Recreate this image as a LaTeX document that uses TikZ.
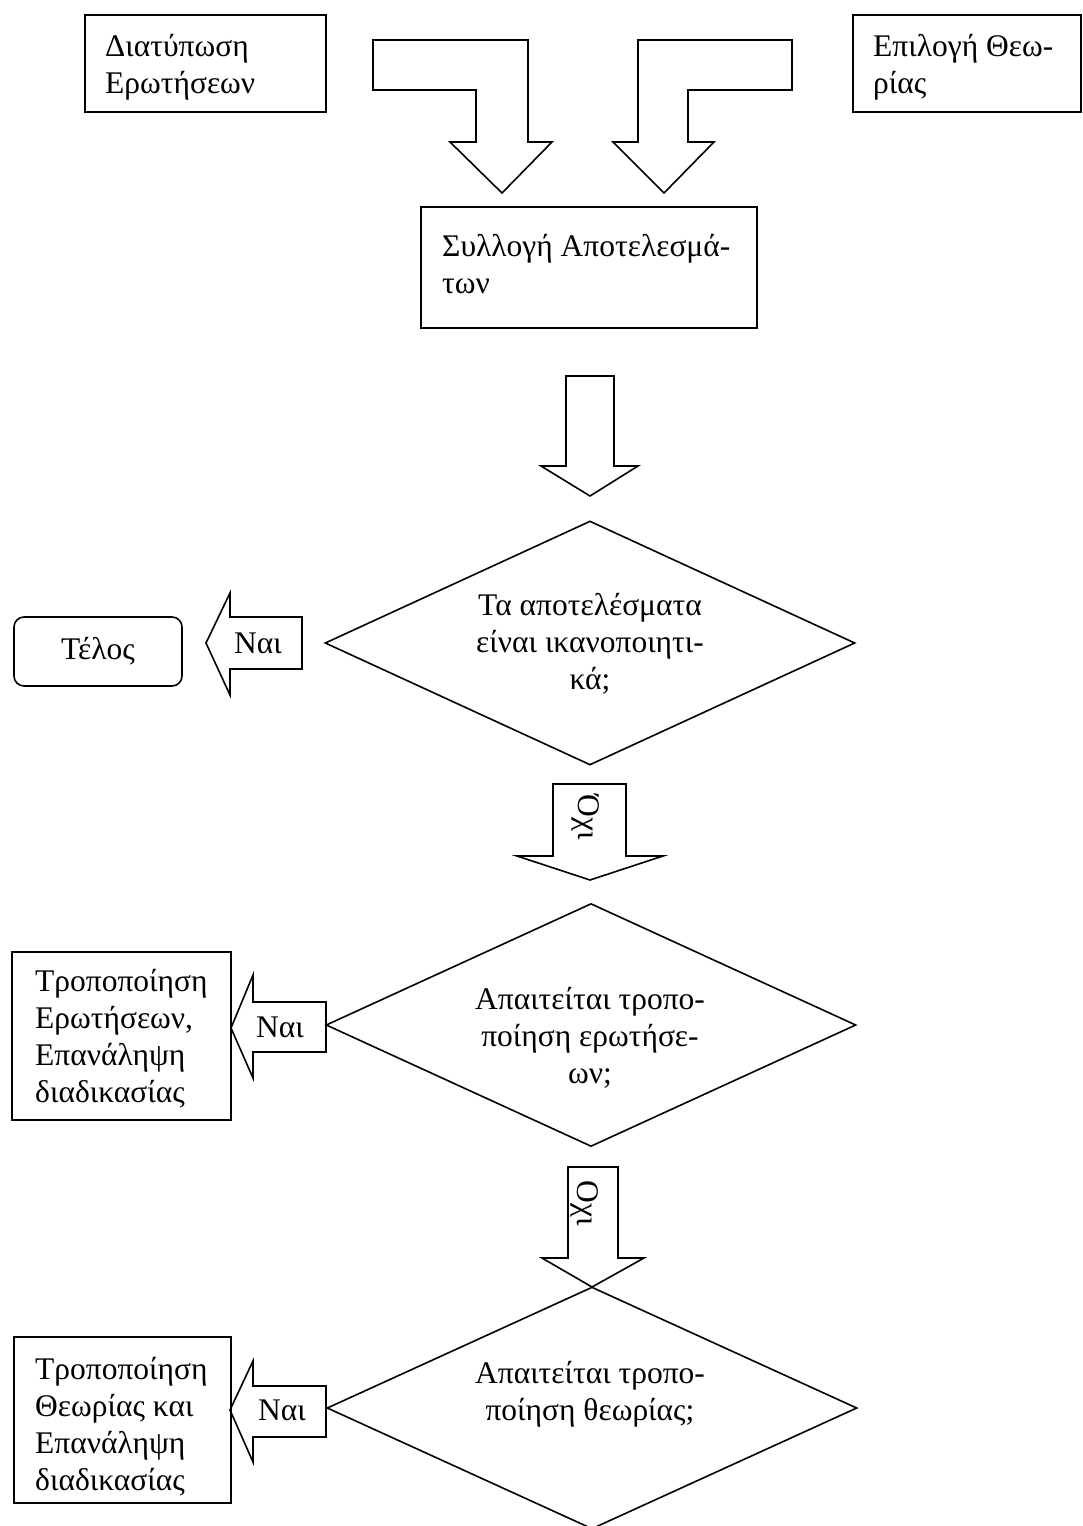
\documentclass[tikz,border=0pt]{standalone}
\usepackage{fontspec}
\setmainfont{Liberation Serif}
\usetikzlibrary{shapes.geometric}

\tikzset{
	box/.style={draw, line width=1.6pt, inner sep=0pt},
	decision/.style={draw, diamond, line width=1.6pt, inner sep=0pt},
	blockarrow/.style={draw, line width=1.6pt, line join=miter},
	txt/.style={inner sep=0pt, font=\fontsize{31.5}{37}\selectfont},
}

\begin{document}
\begin{tikzpicture}[x=1pt,y=-1pt]
			\useasboundingbox (0,0) rectangle (1082,1526);

			% boxes
			\node[box, minimum width=241pt, minimum height=97pt] (diat) at (205.5,63.5) {};
			\node[box, minimum width=228pt, minimum height=97pt] (epil) at (967,63.5) {};
			\node[box, minimum width=336pt, minimum height=121pt] (syll) at (589,267.5) {};
			\node[box, rounded corners=10pt, minimum width=168pt, minimum height=69pt, txt] (telos) at (98,651.5) {Τέλος};
			\node[box, minimum width=219pt, minimum height=168pt] (troperot) at (121.5,1036) {};
			\node[box, minimum width=217pt, minimum height=166pt] (tropthe) at (122.5,1420) {};

			% decisions
			\node[decision, minimum width=530pt, minimum height=244pt] (ikan) at (590,643) {};
			\node[decision, minimum width=530pt, minimum height=243pt] (aperot) at (591,1025) {};
			\node[decision, minimum width=530pt, minimum height=242pt] (apthe) at (592,1408) {};

			% box texts
			\node[txt, anchor=west, align=left] (diattxt) at (105,67) {Διατύπωση\\Ερωτήσεων};
			\node[txt, anchor=west, align=left] (epiltxt) at (873,67) {Επιλογή Θεω-\\ρίας};
			\node[txt, anchor=west, align=left] (sylltxt) at (442,264) {Συλλογή Αποτελεσμά-\\των};
			\node[txt, anchor=west, align=left] (troperottxt) at (35,1039) {Τροποποίηση\\Ερωτήσεων,\\Επανάληψη\\διαδικασίας};
			\node[txt, anchor=west, align=left] (tropthetxt) at (35,1427) {Τροποποίηση\\Θεωρίας και\\Επανάληψη\\διαδικασίας};

			% decision texts
			\node[txt, align=center] (ikantxt) at (590,644) {Τα αποτελέσματα\\είναι ικανοποιητι-\\κά;};
			\node[txt, align=center] (aperottxt) at (590,1038) {Απαιτείται τροπο-\\ποίηση ερωτήσε-\\ων;};
			\node[txt, align=center] (apthetxt) at (590,1394) {Απαιτείται τροπο-\\ποίηση θεωρίας;};

			% bent arrows
			\draw[blockarrow] (373,40) -- (528,40) -- (528,142) -- (552,142) -- (502,193) -- (450,142) -- (476,142) -- (476,90) -- (373,90) -- cycle;
			\draw[blockarrow] (792,40) -- (638,40) -- (638,142) -- (613,142) -- (664,193) -- (714,142) -- (688,142) -- (688,90) -- (792,90) -- cycle;

			% down arrows
			\draw[blockarrow] (566,376) -- (614,376) -- (614,466) -- (638,466) -- (590,496) -- (541,466) -- (566,466) -- cycle;
			\draw[blockarrow] (553,784) -- (626,784) -- (626,856) -- (663,856) -- (590,880) -- (517,856) -- (553,856) -- cycle;
			\draw[blockarrow] (568,1167) -- (618,1167) -- (618,1258) -- (644,1258) -- (592,1287) -- (542,1258) -- (568,1258) -- cycle;

			% left arrows
			\draw[blockarrow] (302,617) -- (230,617) -- (230,593) -- (206,643) -- (230,695) -- (230,669) -- (302,669) -- cycle;
			\draw[blockarrow] (326,1002) -- (253,1002) -- (253,975) -- (231,1028) -- (253,1078) -- (253,1052) -- (326,1052) -- cycle;
			\draw[blockarrow] (326,1386) -- (253,1386) -- (253,1361) -- (230,1410) -- (253,1462) -- (253,1437) -- (326,1437) -- cycle;

			% arrow labels
			\node[txt] (nai1) at (258,643) {Ναι};
			\node[txt] (nai2) at (280,1027) {Ναι};
			\node[txt] (nai3) at (282,1410) {Ναι};
			\node[txt, rotate=-90] (ochi1) at (586,817) {Όχι};
			\node[txt, rotate=-90] (ochi2) at (585,1203) {Οχι};
		\end{tikzpicture}
\end{document}
